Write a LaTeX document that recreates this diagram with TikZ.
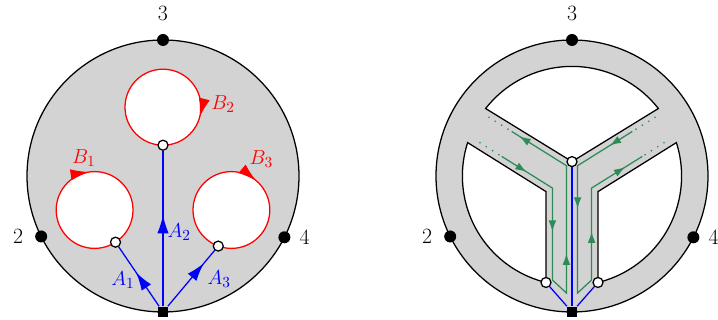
\documentclass[tikz,border=0pt]{standalone}
\usepackage{tikz}
\usetikzlibrary{positioning, arrows.meta, decorations.markings}

\definecolor{disk}{RGB}{211,211,211}
\definecolor{pathgreen}{RGB}{46,139,87}

\tikzset{
  bdot/.style={circle, fill=black, inner sep=0pt, minimum size=0.3cm},
  wdot/.style={circle, draw=black, fill=white, line width=0.9pt, inner sep=0pt, minimum size=0.25cm},
  base/.style={rectangle, fill=black, inner sep=0pt, minimum size=0.26cm},
  tip/.style={postaction={decorate, decoration={markings, mark=at position #1 with {\arrow{Latex[length=13pt,width=8pt]}}}}},
  gtip/.style={postaction={decorate, decoration={markings, mark=at position #1 with {\arrow{Latex[length=8pt,width=5.5pt]}}}}},
  dots/.style={pathgreen, line width=1.3pt, line cap=round, dash pattern=on 0pt off 5.3pt},
}

\begin{document}
\begin{tikzpicture}[line width=0.9pt, font=\fontsize{15.5}{18}\selectfont]
  \useasboundingbox (-4.075,-3.6) rectangle (13.875,4.4);

  % left: disk with three holes
  \draw[fill=disk] (0,0) circle (3.4);
  \coordinate (b1) at (-1.71,-0.85);
  \coordinate (b2) at (0,1.72);
  \coordinate (b3) at (1.71,-0.85);
  \draw[red, fill=white, tip=0.726] (b1) ++(0:0.96) arc[start angle=0, end angle=-360, radius=0.96];
  \draw[red, fill=white, tip=0.04] (b2) ++(0:0.95) arc[start angle=0, end angle=-360, radius=0.95];
  \draw[red, fill=white, tip=0.861] (b3) ++(0:0.96) arc[start angle=0, end angle=-360, radius=0.96];

  \node[wdot] (a1) at (-1.187,-1.655) {};
  \node[wdot] (a2) at (0,0.77) {};
  \node[wdot] (a3) at (1.382,-1.752) {};
  \node[base] (s) at (0,-3.4) {};
  \draw[blue, tip=0.57] (s) -- (a1);
  \draw[blue, tip=0.587] (s) -- (a2);
  \draw[blue, tip=0.77] (s) -- (a3);

  \node[bdot, label={[label distance=0.17cm]above:3}] (p3) at (90:3.4) {};
  \node[bdot, label={[label distance=0.15cm]left:2}] (p2) at (206.4:3.4) {};
  \node[bdot, label={[label distance=0.08cm]right:4}] (p4) at (-26.8:3.4) {};

  \node[red] (lb1) at (-1.98,0.45) {$B_1$};
  \node[red] (lb2) at (1.5,1.8) {$B_2$};
  \node[red] (lb3) at (2.46,0.425) {$B_3$};
  \node[blue] (la1) at (-1,-2.6) {$A_1$};
  \node[blue] (la2) at (0.405,-1.41) {$A_2$};
  \node[blue] (la3) at (1.405,-2.57) {$A_3$};

  % right: thickened graph
  \begin{scope}[xshift=10.225cm]
    \draw[fill=disk] (0,0) circle (3.4);
    \draw[fill=white] (0,0.36) -- (142:2.74) arc[start angle=142, end angle=38, radius=2.74] -- cycle;
    \draw[fill=white] (-0.65,-0.39) -- (162.26:2.74) arc[start angle=162.26, end angle=256.27, radius=2.74] -- cycle;
    \draw[fill=white] (0.65,-0.39) -- (17.74:2.74) arc[start angle=17.74, end angle=-76.27, radius=2.74] -- cycle;

    \draw[pathgreen, gtip=0.081, gtip=0.285, gtip=0.58, gtip=0.975]
      (-1.758,0.49) -- (-0.49,-0.301) -- (-0.49,-2.6) -- (-0.14,-2.925) -- (-0.14,0.258) -- (-1.508,1.113);
    \draw[pathgreen, gtip=0.073, gtip=0.296, gtip=0.715, gtip=0.944]
      (1.508,1.113) -- (0.14,0.258) -- (0.14,-2.925) -- (0.49,-2.6) -- (0.49,-0.301) -- (1.758,0.49);
    \draw[dots] (-2.3,0.83) -- (-1.758,0.49);
    \draw[dots] (-2.075,1.467) -- (-1.508,1.113);
    \draw[dots] (2.075,1.467) -- (1.508,1.113);
    \draw[dots] (2.3,0.83) -- (1.758,0.49);

    \node[wdot] (rj) at (0,0.36) {};
    \node[wdot] (rd1) at (-0.65,-2.662) {};
    \node[wdot] (rd2) at (0.65,-2.662) {};
    \node[base] (rs) at (0,-3.4) {};
    \draw[blue] (rs) -- (rj);
    \draw[blue] (rs) -- (rd1);
    \draw[blue] (rs) -- (rd2);

    \node[bdot, label={[label distance=0.17cm]above:3}] (q3) at (90:3.4) {};
    \node[bdot, label={[label distance=0.15cm]left:2}] (q2) at (206.4:3.4) {};
    \node[bdot, label={[label distance=0.08cm]right:4}] (q4) at (-26.8:3.4) {};
  \end{scope}
\end{tikzpicture}
\end{document}
